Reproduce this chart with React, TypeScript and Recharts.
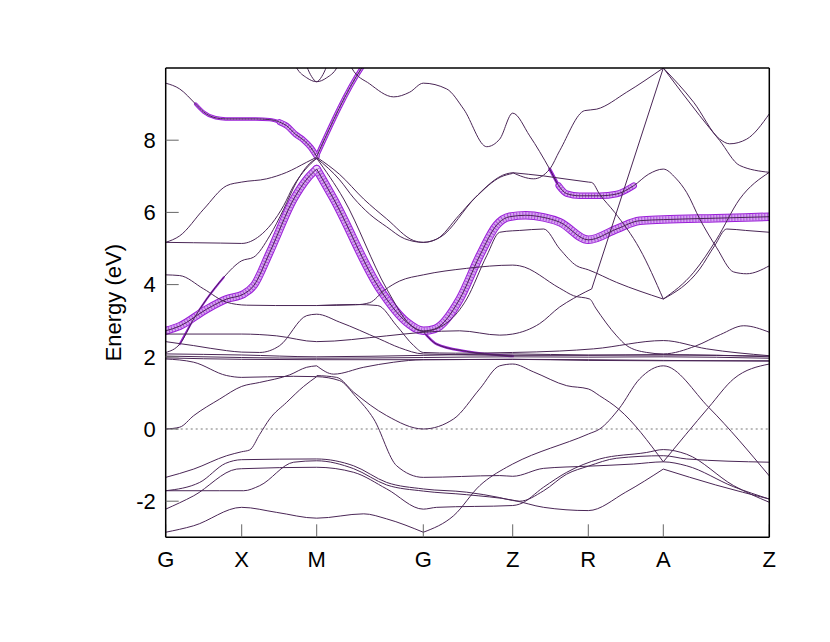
import React from 'react';
import { LineChart, Line, XAxis, YAxis, ReferenceLine, Label } from 'recharts';

type P = [number, number];

// high-symmetry k-path positions and labels
const kPoints = [0, 0.76, 1.51, 2.576, 3.47, 4.226, 4.976, 6.036];
const kLabels = ['G', 'X', 'M', 'G', 'Z', 'R', 'A', 'Z'];
const energyTicks = [-2, 0, 2, 4, 6, 8];

// ---- bands: [k, E(eV)] ----
const band01a: P[] = [[0, 9.58], [0.14, 9.42], [0.3, 9.0], [0.38, 8.78], [0.5, 8.62], [0.6, 8.59], [0.9, 8.59], [1.04, 8.57], [1.14, 8.5], [1.21, 8.4], [1.3, 8.16], [1.38, 8.0], [1.45, 7.8], [1.51, 7.55]];
const band01b: P[] = [[1.51, 7.55], [1.96, 10.0], [2.05, 10.35]];
const band02a: P[] = [[1.22, 10.6], [1.31, 10.0], [1.41, 9.73], [1.51, 9.62], [1.61, 9.73], [1.71, 10.0], [1.8, 10.6]];
const band02b: P[] = [[1.35, 10.6], [1.41, 10.05], [1.46, 9.76], [1.51, 9.62], [1.56, 9.76], [1.61, 10.05], [1.67, 10.6]];
const band03: P[] = [[1.8, 10.4], [1.86, 10.0], [2.04, 9.56], [2.28, 9.2], [2.44, 9.33], [2.576, 9.58], [2.81, 9.42], [2.98, 8.86], [3.21, 7.82], [3.34, 8.03], [3.47, 8.75], [3.64, 8.12], [3.84, 7.2], [3.93, 6.74], [4.01, 6.52], [4.14, 6.46], [4.34, 6.46], [4.51, 6.51], [4.68, 6.74], [4.83, 7.06], [4.976, 7.2], [5.1, 6.95], [5.21, 6.55], [5.34, 5.82], [5.51, 5.02], [5.68, 4.35], [5.81, 4.3], [6.036, 4.52]];
const band04a: P[] = [[0, 5.17], [0.14, 5.35], [0.38, 6.09], [0.61, 6.74], [0.76, 6.84], [1.01, 6.93], [1.21, 7.11], [1.41, 7.39], [1.51, 7.53]];
const band04b: P[] = [[1.51, 7.53], [1.74, 7.05], [1.98, 6.37], [2.21, 5.82], [2.48, 5.22], [2.576, 5.17], [2.71, 5.26], [2.93, 5.91], [3.08, 6.37], [3.41, 7.07], [3.47, 7.1]];
const band05a: P[] = [[0, 5.17], [0.28, 5.16], [0.55, 5.15], [0.76, 5.14], [0.94, 5.35], [1.18, 6.19], [1.28, 6.74], [1.4, 7.2], [1.51, 7.5]];
const band05b: P[] = [[1.51, 7.5], [1.74, 6.9], [1.88, 6.4], [2.04, 5.95], [2.21, 5.6], [2.39, 5.27], [2.576, 5.17], [2.75, 5.32], [3.1, 6.42], [3.35, 6.98], [3.47, 7.08]];
const band06a: P[] = [[0, 2.12], [0.14, 2.35], [0.28, 3.05], [0.41, 3.6], [0.58, 4.2], [0.76, 4.66], [0.88, 4.76], [1.04, 5.35], [1.18, 6.09], [1.31, 6.85], [1.42, 7.3], [1.51, 7.5]];
const band06b: P[] = [[1.51, 7.5], [1.78, 6.37], [2.21, 3.88], [2.44, 2.9], [2.576, 2.7], [2.64, 2.72], [3.01, 3.6], [3.21, 4.8], [3.34, 5.45], [3.47, 5.49], [3.54, 5.5], [3.78, 5.54], [3.94, 4.99], [4.11, 4.52], [4.226, 4.41], [4.51, 4.06], [4.976, 3.6]];
const band06c: P[] = [[4.976, 3.6], [5.34, 4.43], [5.49, 5.08], [5.61, 5.54], [5.8, 5.5], [6.036, 5.45]];
const band07a: P[] = [[0, 2.72], [0.14, 2.85], [0.41, 3.32], [0.61, 3.6], [0.78, 3.74], [0.88, 3.97], [1.04, 4.89], [1.28, 6.37], [1.42, 6.95], [1.51, 7.2]];
const band07b: P[] = [[1.51, 7.2], [1.68, 6.37], [2.14, 3.88], [2.41, 2.96], [2.576, 2.72], [2.69, 2.77], [2.94, 3.6], [3.14, 4.8], [3.31, 5.65], [3.44, 5.88], [3.6, 5.92], [3.78, 5.86], [3.94, 5.73], [4.226, 5.24], [4.51, 5.54], [4.74, 5.77], [4.976, 5.8], [5.5, 5.84], [6.036, 5.88]];
const band08: P[] = [[0, 4.27], [0.14, 4.25], [0.38, 3.88], [0.61, 3.51], [0.81, 3.43], [1.1, 3.42], [1.51, 3.42], [1.9, 3.44], [2.04, 3.5], [2.19, 3.85], [2.34, 4.1], [2.576, 4.27], [3.01, 4.45], [3.47, 4.54], [3.54, 4.52], [3.94, 3.9], [4.08, 3.69], [4.24, 3.6], [4.3, 3.35], [4.51, 2.58], [4.61, 2.31], [4.81, 2.12], [4.976, 2.08], [5.3, 2.3], [5.55, 2.62], [5.78, 2.86], [6.036, 2.68]];
const band09: P[] = [[1.51, 3.42], [1.9, 3.45], [2.12, 3.42], [2.31, 2.86], [2.48, 2.31], [2.576, 2.12], [2.9, 2.1], [3.47, 2.12], [3.94, 2.16], [4.28, 2.22], [4.976, 2.45], [5.41, 2.22], [6.036, 2.03]];
const band10: P[] = [[0, 2.42], [0.28, 2.31], [0.61, 2.17], [0.76, 2.13], [0.94, 2.12], [1.14, 2.31], [1.41, 3.14], [1.51, 3.18], [1.74, 2.96], [2.14, 2.49], [2.34, 2.25], [2.576, 2.08], [3.47, 2.04], [4.226, 2.04], [4.976, 2.06], [6.036, 2.0]];
const band11a: P[] = [[0, 2.63], [0.76, 2.63], [1.11, 2.58], [1.51, 2.42], [2.21, 2.58], [2.576, 2.68], [2.94, 2.72], [3.34, 2.6], [3.47, 2.63], [3.74, 2.92], [3.94, 3.38], [4.08, 3.62], [4.2, 3.8], [4.26, 3.88]];
const band11b: P[] = [[4.26, 3.88], [4.976, 10.0]];
const band12: P[] = [[0, 1.94], [0.28, 1.85], [0.61, 1.48], [0.76, 1.43], [1.28, 1.46], [1.51, 1.45], [1.74, 1.34], [1.9, 0.9], [2.08, 0.28], [2.31, -1.02], [2.576, -1.34], [3.34, -1.29], [3.47, -1.31], [3.78, -1.09], [4.226, -1.03], [4.68, -0.97], [4.976, -0.91], [5.21, -1.02], [5.68, -1.6], [6.036, -1.94]];
const band13a: P[] = [[0, 0], [0.14, 0.05], [0.28, 0.37], [0.54, 0.83], [0.76, 1.18], [0.94, 1.29], [1.24, 1.5], [1.41, 1.71], [1.51, 1.75]];
const band13b: P[] = [[1.51, 1.75], [1.68, 1.52], [1.98, 1.71], [2.28, 1.85], [2.576, 1.92], [3.47, 1.93], [4.226, 1.92], [4.976, 1.9], [6.036, 1.88]];
const band14a: P[] = [[0, -1.34], [0.28, -1.11], [0.61, -0.74], [0.76, -0.63], [0.84, -0.58], [0.94, -0.15], [1.04, 0.28], [1.21, 0.74], [1.38, 1.18], [1.51, 1.45]];
const band14b: P[] = [[1.51, 1.48], [1.71, 1.43], [1.88, 1.02], [2.21, 0.37], [2.576, 0], [2.88, 0.28], [3.14, 1.11], [3.34, 1.75], [3.47, 1.8], [3.68, 1.58], [4.01, 1.2], [4.226, 1.11], [4.34, 0.92], [4.53, 0.55], [4.976, -0.91]];
const band14c: P[] = [[4.976, -0.91], [5.43, 0.6], [5.68, 1.39], [6.036, 1.8]];
const band15: P[] = [[0, -1.71], [0.34, -1.48], [0.6, -0.95], [0.76, -0.85], [1.51, -0.83], [1.88, -1.02], [2.21, -1.48], [2.576, -1.66], [3.01, -1.75], [3.34, -1.9], [3.47, -1.98], [3.54, -2.0], [3.78, -1.71], [4.01, -1.25], [4.226, -1.03], [4.51, -0.81], [4.976, -0.74], [5.21, -0.83], [6.036, -0.92]];
const band16a: P[] = [[0, -1.71], [0.54, -1.71], [0.78, -1.71], [0.94, -1.57], [1.28, -0.92], [1.51, -0.88], [1.88, -1.1], [2.21, -1.55], [2.576, -1.72], [3.01, -1.82], [3.47, -1.97], [3.78, -2.17], [4.226, -2.26], [4.6, -1.75], [4.976, -1.11]];
const band16b: P[] = [[4.976, -1.11], [5.5, -1.55], [6.036, -1.94]];
const band17: P[] = [[0, -2.22], [0.28, -1.85], [0.71, -1.11], [0.76, -1.1], [1.51, -1.06], [1.88, -1.2], [2.21, -1.66], [2.576, -2.22], [2.71, -2.17], [3.47, -2.12], [3.54, -2.08], [3.78, -1.61], [4.01, -1.2], [4.34, -0.83], [4.81, -0.65], [4.976, -0.57], [5.21, -0.7], [5.68, -1.57], [6.036, -2.03]];
const band18a: P[] = [[0, -2.86], [0.28, -2.68], [0.76, -2.17], [1.11, -2.31], [1.51, -2.47], [1.98, -2.35], [2.21, -2.49], [2.576, -2.86]];
const band18b: P[] = [[2.576, -2.86], [2.88, -2.4], [3.14, -1.57], [3.41, -1.06], [3.47, -0.97], [4.226, -0.14], [4.34, 0.0], [4.53, 0.55], [4.74, 1.39], [4.976, 1.75], [5.43, 0.6], [6.036, -1.3]];
const band20a: P[] = [[4.976, 10.0], [5.28, 9.05], [5.54, 8.03], [5.64, 7.9], [5.81, 8.03], [6.036, 8.73]];
const band20b: P[] = [[4.976, 10.0], [5.34, 8.68], [5.54, 7.99], [5.74, 7.3], [6.036, 7.11]];
const band21: P[] = [[3.47, 7.1], [3.68, 6.93], [3.84, 7.2], [3.94, 7.71], [4.19, 8.82], [4.31, 8.86], [4.61, 9.33], [4.976, 10.0]];
const band22: P[] = [[3.47, 7.1], [3.78, 7.01], [4.226, 6.84], [4.26, 6.83], [4.34, 6.5], [4.49, 6.0], [4.74, 4.99], [4.976, 3.6]];
const band23: P[] = [[4.976, 3.6], [5.28, 4.34], [5.51, 5.26], [5.74, 6.37], [6.036, 7.11]];
const band24: P[] = [[2.576, 2.7], [2.71, 2.35], [3.01, 2.15], [3.47, 2.02]];
const cluster1: P[] = [[0, 2.08], [0.76, 2.05], [1.51, 2.0], [2.576, 2.04], [3.47, 2.08], [4.226, 2.05], [4.976, 2.05], [6.036, 2.02]];
const cluster2: P[] = [[0, 2.02], [0.76, 1.98], [1.51, 1.96], [2.576, 1.98], [3.47, 2.0], [4.226, 1.99], [4.976, 2.0], [6.036, 1.96]];
const cluster3: P[] = [[0, 1.97], [0.76, 1.93], [1.51, 1.92], [2.576, 1.92], [3.47, 1.93], [4.226, 1.9], [4.976, 1.89], [6.036, 1.89]];

const bands: P[][] = [
  band01a, band01b, band02a, band02b, band03, band04a, band04b, band05a, band05b,
  band06a, band06b, band06c, band07a, band07b, band08, band09, band10, band11a, band11b,
  band12, band13a, band13b, band14a, band14b, band14c, band15, band16a, band16b, band17,
  band18a, band18b, band20a, band20b, band21, band22, band23, band24, cluster1, cluster2, cluster3,
];

// projected-weight ("fat band") overlays: slice of a band + marker width
type Fat = { band: P[]; from: number; to: number; w: number };
const fatSegments: Fat[] = [
  { band: band01a, from: 2, to: 8, w: 3.5 },
  { band: band01a, from: 8, to: 13, w: 6 },
  { band: band01b, from: 0, to: 2, w: 4.5 },
  { band: band07a, from: 0, to: 9, w: 8 },
  { band: band07b, from: 0, to: 18, w: 8.5 },
  { band: band03, from: 12, to: 13, w: 3 },
  { band: band03, from: 13, to: 18, w: 6.5 },
  { band: band24, from: 0, to: 3, w: 2.5 },
  { band: band06a, from: 1, to: 4, w: 2 },
];

const FAT = '#9a1fd8';
const BAND = '#4a2656';
const FONT = 'Liberation Sans, Arial, Helvetica, sans-serif';

const toData = (pts: P[]) => pts.map(([k, e]) => ({ k, e }));

export default function App() {
  const outer: React.ReactNode[] = [];
  const inner: React.ReactNode[] = [];
  const texture: React.ReactNode[] = [];
  fatSegments.forEach((f, i) => {
    const d = toData(f.band.slice(f.from, f.to + 1));
    outer.push(
      <Line key={`fo${i}`} data={d} dataKey="e" type="monotone" stroke={FAT} strokeWidth={f.w}
        strokeLinecap="round" dot={false} activeDot={false} isAnimationActive={false} />
    );
    if (f.w > 3) {
      inner.push(
        <Line key={`fi${i}`} data={d} dataKey="e" type="monotone" stroke="#ffffff" strokeOpacity={0.6}
          strokeWidth={f.w - 2} strokeLinecap="round" dot={false} activeDot={false} isAnimationActive={false} />
      );
      texture.push(
        <Line key={`ft${i}`} data={d} dataKey="e" type="monotone" stroke={FAT} strokeOpacity={0.7}
          strokeWidth={f.w - 2} strokeDasharray="1 2" dot={false} activeDot={false} isAnimationActive={false} />
      );
    }
  });
  const bandLines = bands.map((b, i) => (
    <Line key={`b${i}`} data={toData(b)} dataKey="e" type="monotone" stroke={BAND} strokeWidth={1}
      dot={false} activeDot={false} isAnimationActive={false} />
  ));

  return (
    <div style={{ fontFamily: FONT }}>
      <LineChart width={800} height={600} margin={{ top: 59, right: 37.7, bottom: 30.7, left: 0 }}>
        <XAxis dataKey="k" type="number" domain={[0, 6.036]} allowDataOverflow ticks={kPoints} interval={0}
          tickFormatter={(v: number) => kLabels[kPoints.indexOf(v)] ?? ''} height={40}
          tickSize={-13} tickMargin={27} axisLine={{ stroke: '#000', strokeWidth: 1.5 }}
          tickLine={{ stroke: '#666' }} tick={{ fontSize: 22, fill: '#000', fontFamily: FONT }} />
        <XAxis xAxisId="t" orientation="top" dataKey="k" type="number" domain={[0, 6.036]} allowDataOverflow
          ticks={kPoints} interval={0} height={1} tickSize={-13} tick={false}
          axisLine={{ stroke: '#000', strokeWidth: 1.5 }} tickLine={{ stroke: '#666' }} />
        <YAxis type="number" domain={[-3, 10]} allowDataOverflow ticks={energyTicks} interval={0} width={157.7}
          tickSize={-13} tickMargin={23} axisLine={{ stroke: '#000', strokeWidth: 1.5 }}
          tickLine={{ stroke: '#666' }} tick={{ fontSize: 22, fill: '#000', fontFamily: FONT }}>
          <Label value="Energy (eV)" angle={-90} position="center" dx={26}
            style={{ fontSize: 22, fill: '#000', fontFamily: FONT }} />
        </YAxis>
        <YAxis yAxisId="r" orientation="right" type="number" domain={[-3, 10]} allowDataOverflow ticks={energyTicks}
          interval={0} width={1} tickSize={-13} tick={false}
          axisLine={{ stroke: '#000', strokeWidth: 1.5 }} tickLine={{ stroke: '#666' }} />
        <ReferenceLine y={0} stroke="#777" strokeDasharray="2 3" strokeWidth={1} />
        {outer}
        {inner}
        {texture}
        {bandLines}
      </LineChart>
    </div>
  );
}
